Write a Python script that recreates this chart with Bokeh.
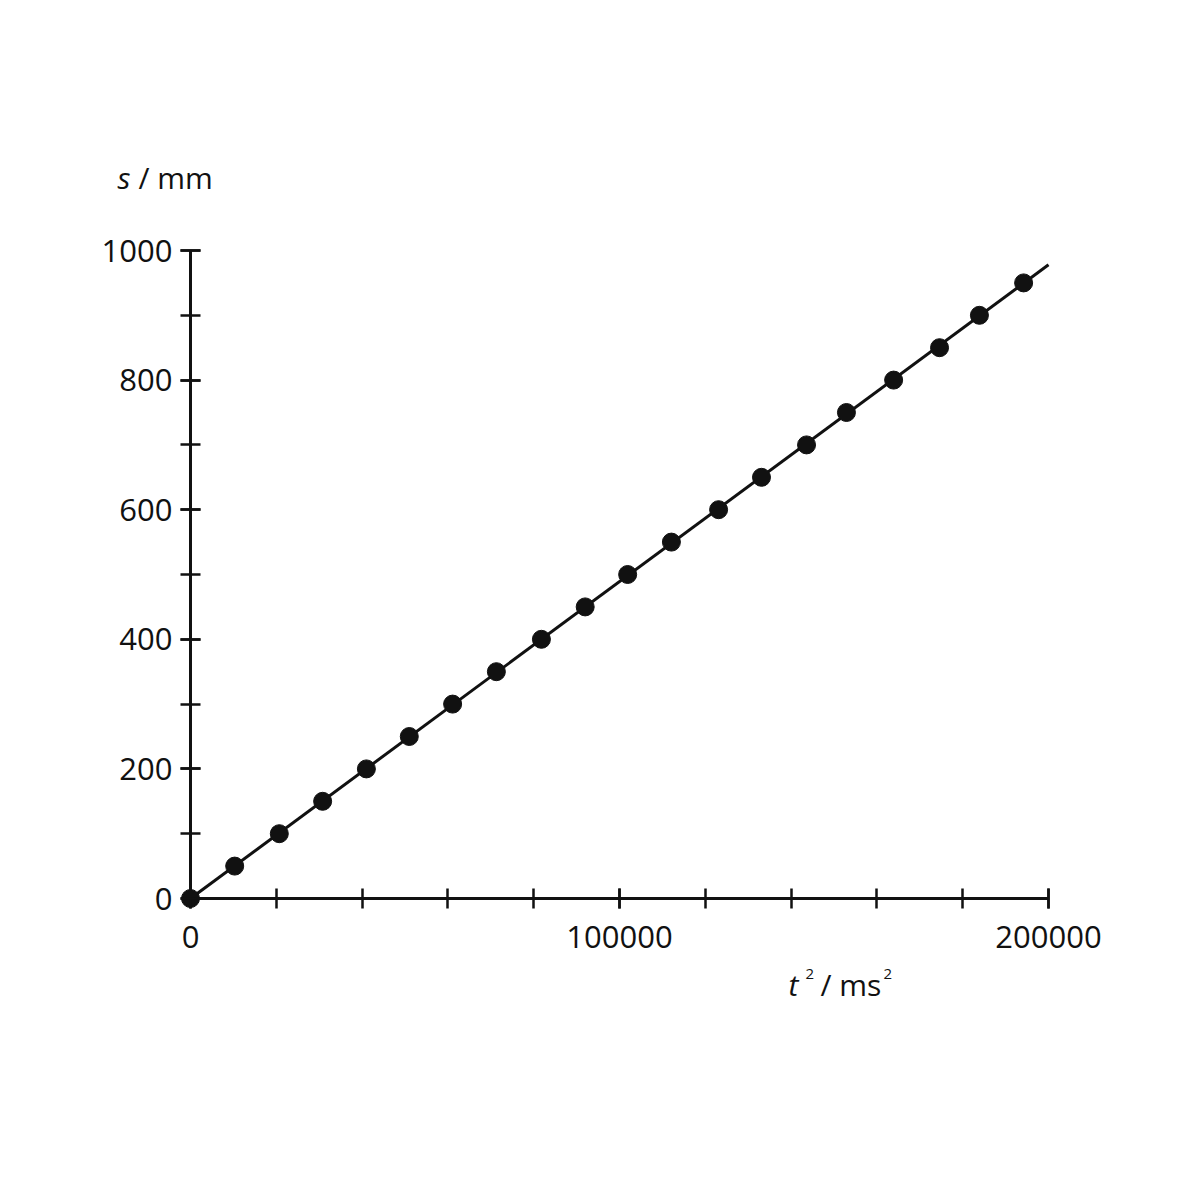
from bokeh.plotting import figure
from bokeh.models import Range1d, LinearAxis, FixedTicker, NumeralTickFormatter, Label
from bokeh.embed import file_html
from bokeh.resources import INLINE

# ---- data ----
s_mm = [0, 50, 100, 150, 200, 250, 300, 350, 400, 450,
        500, 550, 600, 650, 700, 750, 800, 850, 900, 950]
t2_ms2 = [0, 10300, 20700, 30800, 41000, 51000, 61100, 71300, 81800, 92000,
          101900, 112100, 123100, 133100, 143600, 152900, 163900, 174600, 183900, 194200]
fit_t2 = [0, 200000]
fit_s = [0, 978]

x_major = [0, 100000, 200000]
x_minor = [0, 20000, 40000, 60000, 80000, 100000, 120000, 140000, 160000, 180000, 200000]
y_major = [0, 200, 400, 600, 800, 1000]
y_minor = [0, 100, 200, 300, 400, 500, 600, 700, 800, 900, 1000]

# ---- layout (canvas px) ----
W, H = 1190, 1190
x0_px, x1_px = 190, 1048      # canvas x of t2 = 0 and 200000
y0_px, y1_px = 898, 250       # canvas y (from top) of s = 0 and 1000
xs = 200000 / (x1_px - x0_px)
ys = 1000 / (y0_px - y1_px)

p = figure(width=W, height=H, output_backend="svg", toolbar_location=None,
           x_range=Range1d(-x0_px * xs, (W - x0_px) * xs),
           y_range=Range1d((y0_px - H) * ys, y0_px * ys),
           x_axis_location=None, y_axis_location=None,
           min_border=0, min_border_left=0, min_border_right=0,
           min_border_top=0, min_border_bottom=0)
p.xgrid.visible = False
p.ygrid.visible = False
p.outline_line_color = None
p.background_fill_color = "white"
p.border_fill_color = "white"

ink = "#111111"
font = "Open Sans"

xaxis = LinearAxis(fixed_location=0, bounds=(0, 200000),
                   ticker=FixedTicker(ticks=x_major, minor_ticks=x_minor),
                   formatter=NumeralTickFormatter(format="0"))
yaxis = LinearAxis(fixed_location=0, bounds=(0, 1000),
                   ticker=FixedTicker(ticks=y_major, minor_ticks=y_minor),
                   formatter=NumeralTickFormatter(format="0"))
for ax in (xaxis, yaxis):
    ax.axis_line_width = 3
    ax.axis_line_color = ink
    ax.major_tick_line_width = 2.5
    ax.minor_tick_line_width = 2.5
    ax.major_tick_line_color = ink
    ax.minor_tick_line_color = ink
    ax.major_tick_in = 10
    ax.major_tick_out = 10
    ax.minor_tick_in = 10
    ax.minor_tick_out = 10
    ax.major_label_text_font = font
    ax.major_label_text_font_size = "31px"
    ax.major_label_text_color = ink
xaxis.major_label_standoff = 17
yaxis.major_label_standoff = 8
p.add_layout(xaxis, "below")
p.add_layout(yaxis, "left")

p.line(fit_t2, fit_s, line_width=3, line_color=ink)
p.scatter(t2_ms2, s_mm, size=18, fill_color=ink, line_color=ink)

def dx(px):  # canvas px -> data x
    return (px - x0_px) * xs

def dy(py):  # canvas px -> data y
    return (y0_px - py) * ys

labels = [
    ("s", 117, 177, "30px", "italic"),
    ("/ mm", 138, 177, "30px", "normal"),
    ("t", 788, 984, "30px", "italic"),
    ("2", 805, 973, "15px", "normal"),
    ("/ ms", 820, 984, "30px", "normal"),
    ("2", 883, 973, "15px", "normal"),
]
for txt, px, py, fs, style in labels:
    p.add_layout(Label(x=dx(px), y=dy(py), text=txt, text_font=font,
                       text_font_size=fs, text_font_style=style,
                       text_color=ink, text_baseline="alphabetic",
                       text_align="left"))

open("out.html", "w").write(file_html(p, INLINE))
